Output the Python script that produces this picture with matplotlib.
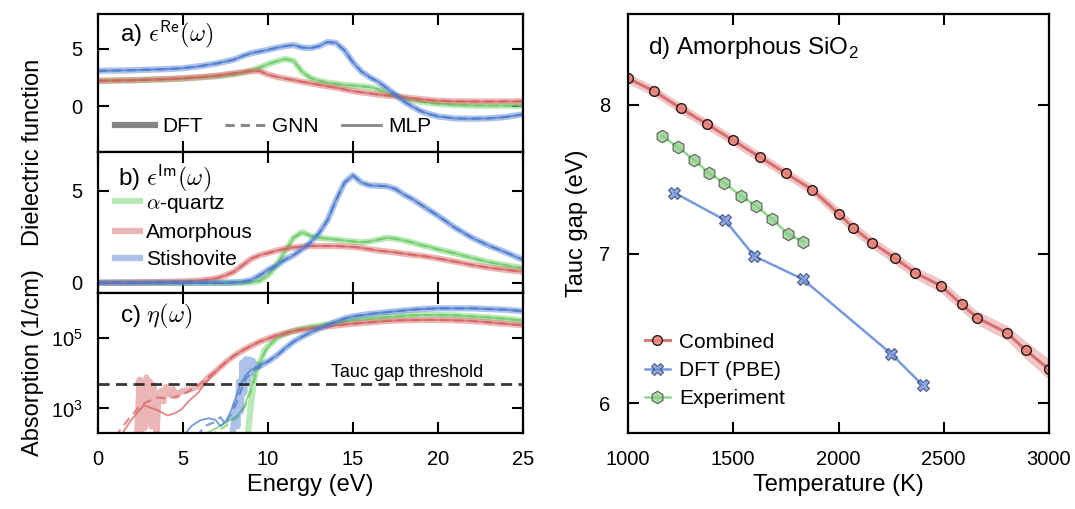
import numpy as np
import matplotlib
matplotlib.use('Agg')
import matplotlib.pyplot as plt
from matplotlib.lines import Line2D
from matplotlib.ticker import FixedLocator, NullLocator

plt.rcParams['font.family'] = ['Liberation Sans', 'DejaVu Sans']
plt.rcParams['mathtext.fontset'] = 'cm'

# ---------------- data: panels a and b ----------------
energy = [0, 2, 4, 5, 6, 7, 7.5, 8, 8.5, 9, 9.5, 10, 10.5, 11, 11.5, 12, 12.5, 13, 13.5, 14,
          14.5, 15, 15.5, 16, 16.5, 17, 17.5, 18, 18.5, 19, 19.5, 20, 21, 22, 23, 24, 25]

eps_re_quartz = [2.2, 2.25, 2.33, 2.4, 2.5, 2.6, 2.68, 2.78, 2.92, 3.1, 3.35, 3.65, 3.9, 4.1, 3.95,
                 3.0, 2.45, 2.2, 2.05, 1.95, 1.85, 1.78, 1.72, 1.65, 1.45, 1.15, 0.9, 0.68, 0.5, 0.38,
                 0.28, 0.2, 0.1, 0.05, 0.03, 0.03, 0.05]
eps_re_amorphous = [2.2, 2.25, 2.35, 2.42, 2.52, 2.65, 2.75, 2.85, 2.95, 3.05, 3.05, 2.75, 2.55, 2.4,
                    2.27, 2.12, 1.98, 1.85, 1.72, 1.6, 1.45, 1.3, 1.2, 1.1, 1.0, 0.92, 0.85, 0.76,
                    0.68, 0.6, 0.53, 0.47, 0.42, 0.4, 0.4, 0.41, 0.42]
eps_re_stishovite = [3.07, 3.12, 3.22, 3.3, 3.48, 3.72, 3.88, 4.05, 4.35, 4.6, 4.75, 4.9, 5.08, 5.22,
                     5.32, 5.1, 5.05, 5.22, 5.58, 5.5, 4.85, 3.8, 3.0, 2.5, 2.1, 1.55, 1.0, 0.4, -0.05,
                     -0.45, -0.7, -0.9, -1.08, -1.1, -1.07, -0.95, -0.72]

eps_im_quartz = [0, 0, 0, 0, 0, 0, 0, 0, 0, 0.02, 0.1, 0.4, 0.95, 1.7, 2.45, 2.75, 2.55, 2.45, 2.4,
                 2.35, 2.3, 2.25, 2.2, 2.25, 2.35, 2.45, 2.4, 2.3, 2.2, 2.05, 1.95, 1.82, 1.6, 1.35,
                 1.12, 0.95, 0.8]
eps_im_amorphous = [0, 0.02, 0.05, 0.08, 0.12, 0.25, 0.4, 0.6, 0.95, 1.3, 1.5, 1.62, 1.75, 1.85, 1.92,
                    1.97, 2.0, 2.0, 2.0, 2.0, 1.98, 1.95, 1.9, 1.82, 1.75, 1.7, 1.65, 1.58, 1.52, 1.47,
                    1.4, 1.32, 1.15, 0.97, 0.82, 0.7, 0.6]
eps_im_stishovite = [0, 0, 0, 0, 0, 0, 0, 0.02, 0.05, 0.15, 0.4, 0.7, 0.95, 1.25, 1.5, 1.82, 2.2, 2.7,
                     3.4, 4.5, 5.45, 5.85, 5.45, 5.3, 5.28, 5.25, 5.1, 4.8, 4.55, 4.25, 3.95, 3.65,
                     3.0, 2.45, 2.02, 1.65, 1.25]

# ---------------- data: panel c (log10 of absorption in 1/cm) ----------------
abs_tail_energy = [10, 10.5, 11, 11.5, 12, 12.5, 13, 13.5, 14, 14.5, 15, 16, 17, 18, 19, 20, 21, 22, 23, 24, 25]
abs_tail_quartz = [4.76, 5.0, 5.12, 5.21, 5.27, 5.32, 5.36, 5.40, 5.44, 5.48, 5.51, 5.56, 5.60, 5.64,
                   5.66, 5.66, 5.65, 5.62, 5.59, 5.55, 5.50]
abs_tail_amorphous = [4.99, 5.08, 5.14, 5.20, 5.24, 5.27, 5.30, 5.33, 5.36, 5.39, 5.41, 5.45, 5.49,
                      5.51, 5.52, 5.52, 5.51, 5.49, 5.45, 5.41, 5.37]
abs_tail_stishovite = [4.34, 4.50, 4.71, 4.90, 5.04, 5.16, 5.27, 5.37, 5.47, 5.56, 5.62, 5.69, 5.74,
                       5.79, 5.83, 5.85, 5.85, 5.85, 5.83, 5.81, 5.77]

onset_amorphous_dft_e = [2.3, 2.45, 2.55, 2.65, 2.75, 2.85, 2.95, 3.05, 3.15, 3.25, 3.35, 3.45, 3.55,
                         3.7, 3.85, 4.0, 4.2, 4.4, 4.6, 4.8, 5.0, 5.3, 5.6, 6.0, 6.5, 7, 7.5, 8, 8.5, 9, 9.5]
onset_amorphous_dft = [2.2, 3.82, 2.38, 3.5, 2.45, 3.88, 2.91, 3.77, 2.49, 3.66, 3.24, 2.3, 3.34, 3.5,
                       3.2, 3.61, 3.4, 3.56, 3.35, 3.45, 3.5, 3.52, 3.58, 3.64, 3.88, 4.09, 4.31, 4.50,
                       4.65, 4.78, 4.90]
onset_amorphous_gnn_e = [1.0, 1.8, 2.5, 3.0, 3.5, 4.0, 4.5, 5.0, 5.5, 6.0, 6.5, 7, 7.5, 8, 8.5, 9, 9.5]
onset_amorphous_gnn = [2.2, 2.70, 3.09, 3.21, 3.31, 3.29, 3.32, 3.40, 3.54, 3.69, 3.9, 4.09, 4.31,
                       4.50, 4.65, 4.78, 4.90]
onset_amorphous_mlp_e = [1.3, 2.0, 2.7, 3.1, 3.5, 4.1, 4.5, 4.9, 5.4, 5.9, 6.3, 7, 7.5, 8, 8.5, 9, 9.5]
onset_amorphous_mlp = [2.2, 2.70, 3.09, 3.02, 2.95, 2.80, 2.86, 2.97, 3.24, 3.45, 3.72, 4.09, 4.31,
                       4.50, 4.65, 4.78, 4.90]

onset_stishovite_dft_e = [7.9, 8.1, 8.2, 8.3, 8.4, 8.5, 8.6, 8.7, 8.8, 8.9, 9.0, 9.1, 9.2, 9.3, 9.5]
onset_stishovite_dft = [2.2, 3.13, 2.49, 3.77, 2.91, 4.31, 3.45, 4.40, 3.77, 4.40, 3.99, 4.36, 4.2, 4.25, 4.2]
onset_stishovite_gnn_e = [5.8, 6.3, 6.8, 7.2, 7.5, 7.8, 8.1, 8.4, 8.7, 9.0, 9.5]
onset_stishovite_gnn = [2.2, 2.5, 2.6, 2.75, 2.55, 2.8, 3.1, 3.5, 3.85, 4.0, 4.18]
onset_stishovite_mlp_e = [5.0, 5.5, 6.0, 6.5, 6.9, 7.2, 7.5, 7.8, 8.1, 8.4, 8.7, 9.0, 9.5]
onset_stishovite_mlp = [2.2, 2.5, 2.66, 2.72, 2.68, 2.5, 2.62, 2.9, 3.3, 3.7, 3.95, 4.1, 4.22]

onset_quartz_dft_e = [8.8, 9.0, 9.2, 9.4, 9.6, 9.8]
onset_quartz_dft = [2.2, 3.13, 3.88, 4.20, 4.39, 4.65]
onset_quartz_gnn_e = [6.5, 7.2, 7.8, 8.3, 8.7, 9.0, 9.3, 9.6, 9.8]
onset_quartz_gnn = [2.2, 2.4, 2.6, 2.8, 3.1, 3.5, 3.95, 4.35, 4.6]
onset_quartz_mlp_e = [6.0, 7.0, 7.6, 8.2, 8.6, 8.9, 9.2, 9.5, 9.8]
onset_quartz_mlp = [2.2, 2.45, 2.62, 2.8, 3.05, 3.45, 3.9, 4.3, 4.6]

tauc_threshold = 5e3

# ---------------- data: panel d ----------------
temps_combined = [1000, 1125, 1250, 1375, 1500, 1625, 1750, 1875, 2000, 2070, 2160, 2270, 2365, 2485,
                  2585, 2660, 2800, 2890, 3000]
gap_combined = [8.175, 8.09, 7.975, 7.87, 7.76, 7.65, 7.54, 7.43, 7.27, 7.175, 7.075, 6.97, 6.873,
                6.787, 6.662, 6.571, 6.471, 6.355, 6.227]
gap_combined_err = [0.035, 0.035, 0.035, 0.035, 0.035, 0.035, 0.035, 0.035, 0.04, 0.04, 0.04, 0.04,
                    0.04, 0.045, 0.045, 0.045, 0.05, 0.06, 0.07]
temps_dft = [1220, 1460, 1600, 1830, 2250, 2400]
gap_dft = [7.41, 7.227, 6.985, 6.831, 6.331, 6.12]
temps_exp = [1160, 1236, 1312, 1383, 1458, 1537, 1610, 1686, 1760, 1833]
gap_exp = [7.793, 7.715, 7.631, 7.542, 7.475, 7.387, 7.32, 7.231, 7.133, 7.082]

materials = ['α-quartz', 'Amorphous', 'Stishovite']
C_GREEN, C_RED, C_BLUE = '#6acc64', '#d65f5f', '#4878d0'

# ---------------- figure ----------------
fig = plt.figure(figsize=(10.75, 5.09), dpi=100)
W, H = 1075, 509

def frac(x0, y0, x1, y1):
    return [x0 / W, 1 - y1 / H, (x1 - x0) / W, (y1 - y0) / H]

ax_a = fig.add_axes(frac(98, 14, 523, 152))
ax_b = fig.add_axes(frac(98, 152, 523, 292.5))
ax_c = fig.add_axes(frac(98, 292.5, 523, 433))
ax_d = fig.add_axes(frac(628, 14, 1049, 433))

TICK = 14.5

def style(ax, ypad=11):
    ax.tick_params(which='both', direction='in', top=True, right=True, length=8, width=1.5,
                   labelsize=TICK)
    ax.tick_params(axis='y', pad=ypad)
    ax.tick_params(axis='x', pad=12)
    for s in ax.spines.values():
        s.set_linewidth(1.6)

DFT_KW = dict(lw=4.5, alpha=0.45, solid_capstyle='round')
GNN_KW = dict(lw=1.6, alpha=0.7, ls='--', dashes=(4, 2.5))
MLP_KW = dict(lw=1.4, alpha=0.7)

colors = [C_GREEN, C_RED, C_BLUE]
re_sets = [eps_re_quartz, eps_re_amorphous, eps_re_stishovite]
im_sets = [eps_im_quartz, eps_im_amorphous, eps_im_stishovite]

for ax, sets in ((ax_a, re_sets), (ax_b, im_sets)):
    for vals, c in zip(sets, colors):
        ax.plot(energy, vals, color=c, **DFT_KW)
        ax.plot(energy, vals, color=c, **GNN_KW)
        ax.plot(energy, vals, color=c, **MLP_KW)

# panel c
onsets = [
    (C_GREEN, abs_tail_quartz,
     (onset_quartz_dft_e, onset_quartz_dft), (onset_quartz_gnn_e, onset_quartz_gnn),
     (onset_quartz_mlp_e, onset_quartz_mlp)),
    (C_RED, abs_tail_amorphous,
     (onset_amorphous_dft_e, onset_amorphous_dft), (onset_amorphous_gnn_e, onset_amorphous_gnn),
     (onset_amorphous_mlp_e, onset_amorphous_mlp)),
    (C_BLUE, abs_tail_stishovite,
     (onset_stishovite_dft_e, onset_stishovite_dft), (onset_stishovite_gnn_e, onset_stishovite_gnn),
     (onset_stishovite_mlp_e, onset_stishovite_mlp)),
]
for c, tail, dft, gnn, mlp in onsets:
    for (e_on, v_on), kw in ((dft, DFT_KW), (gnn, GNN_KW), (mlp, MLP_KW)):
        e = list(e_on) + abs_tail_energy
        v = np.power(10.0, np.array(list(v_on) + tail))
        ax_c.plot(e, v, color=c, **kw)

ax_c.axhline(tauc_threshold, color='#222222', lw=2.0, ls='--', dashes=(4, 2.3), alpha=0.9)
ax_c.text(13.7, 7.7e3, 'Tauc gap threshold', fontsize=13, va='baseline', ha='left')
ax_c.set_yscale('log')
ax_c.set_ylim(2e2, 2e6)
ax_c.yaxis.set_major_locator(FixedLocator([1e3, 1e5]))
ax_c.yaxis.set_minor_locator(NullLocator())

ax_a.set_ylim(-4, 8.02)
ax_a.set_yticks([0, 5])
ax_b.set_ylim(-0.53, 7.12)
ax_b.set_yticks([0, 5])

for ax in (ax_a, ax_b, ax_c):
    ax.set_xlim(0, 25)
    ax.set_xticks([0, 5, 10, 15, 20, 25])
    style(ax)
for ax in (ax_a, ax_b):
    ax.tick_params(labelbottom=False)
ax_c.set_xlabel('Energy (eV)', fontsize=17, labelpad=4)

PL = 17.5
ax_a.text(0.052, 0.85, 'a) $\\epsilon^{\\mathsf{Re}}(\\omega)$', transform=ax_a.transAxes,
          fontsize=PL, va='center', ha='left')
ax_b.text(0.047, 0.815, 'b) $\\epsilon^{\\mathsf{Im}}(\\omega)$', transform=ax_b.transAxes,
          fontsize=PL, va='center', ha='left')
ax_c.text(0.052, 0.83, 'c) $\\eta(\\omega)$', transform=ax_c.transAxes,
          fontsize=PL, va='center', ha='left')

# legend a (model types)
model_handles = [
    Line2D([], [], color='#777777', lw=4.5, alpha=0.9),
    Line2D([], [], color='#888888', lw=2.2, ls='--', dashes=(3, 2)),
    Line2D([], [], color='#888888', lw=2.0),
]
ax_a.legend(model_handles, ['DFT', 'GNN', 'MLP'], ncol=3, loc='center left',
            bbox_to_anchor=(0.04, 0.183), frameon=False, fontsize=15, borderpad=0,
            handlelength=1.9, handletextpad=0.35, columnspacing=1.1, borderaxespad=0)

# legend b (materials)
mat_handles = [Line2D([], [], color=c, lw=4.5, alpha=0.45) for c in colors]
ax_b.legend(mat_handles, ['$\\alpha$-quartz', 'Amorphous', 'Stishovite'], loc='center left',
            bbox_to_anchor=(0.04, 0.438), frameon=False, fontsize=15, borderpad=0,
            handlelength=1.2, handletextpad=0.3, labelspacing=0.4, borderaxespad=0)

fig.text(33 / W, 1 - 152 / H, 'Dielectric function', rotation=90, fontsize=17,
         ha='center', va='center')
fig.text(33 / W, 1 - 362.7 / H, 'Absorption (1/cm)', rotation=90, fontsize=17,
         ha='center', va='center')

# panel d
tc = np.array(temps_combined)
gc = np.array(gap_combined)
ge = np.array(gap_combined_err)
ax_d.fill_between(tc, gc - ge, gc + ge, color=C_RED, alpha=0.35, lw=0)
l_comb, = ax_d.plot(tc, gc, color=C_RED, lw=2.2, alpha=0.85, marker='o', ms=7,
                    mfc='#e8837a', mec='black', mew=1.0, clip_on=True)
l_dft, = ax_d.plot(temps_dft, gap_dft, color=C_BLUE, lw=1.8, alpha=0.75, marker='X', ms=9,
                   mfc='#6f8fdc', mec='#223355', mew=0.8)
l_exp, = ax_d.plot(temps_exp, gap_exp, color=C_GREEN, lw=1.8, alpha=0.75, marker='h', ms=9,
                   mfc='#8dcc88', mec='#333333', mew=0.8)
ax_d.set_xlim(1000, 3000)
ax_d.set_ylim(5.8, 8.607)
ax_d.set_xticks([1000, 1500, 2000, 2500, 3000])
ax_d.set_yticks([6, 7, 8])
style(ax_d, ypad=13)
ax_d.set_xlabel('Temperature (K)', fontsize=17, labelpad=4)
ax_d.set_ylabel('Tauc gap (eV)', fontsize=17, labelpad=8)
ax_d.text(0.048, 0.919, 'd) Amorphous SiO$_{\\mathdefault{2}}$', transform=ax_d.transAxes,
          fontsize=PL, va='center', ha='left')
ax_d.legend([l_comb, l_dft, l_exp], ['Combined', 'DFT (PBE)', 'Experiment'], loc='center left',
            bbox_to_anchor=(0.04, 0.149), frameon=False, fontsize=15, borderpad=0,
            handlelength=1.2, handletextpad=0.45, labelspacing=0.45, borderaxespad=0)

fig.savefig('out.png', dpi=100)
